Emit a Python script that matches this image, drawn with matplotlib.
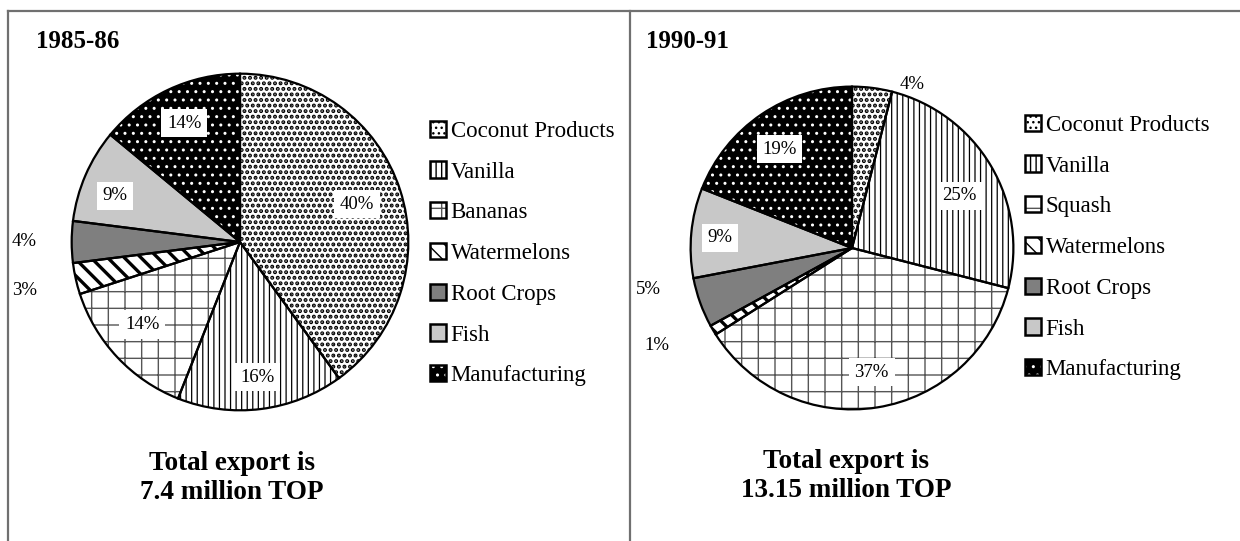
import matplotlib
matplotlib.use("Agg")
import matplotlib.pyplot as plt
from matplotlib.patches import Patch
from matplotlib.lines import Line2D
import numpy as np

plt.rcParams['font.family'] = ['Liberation Serif', 'DejaVu Serif']

# data
products_8586 = ["Coconut Products", "Vanilla", "Bananas", "Watermelons",
                 "Root Crops", "Fish", "Manufacturing"]
shares_8586 = [40, 16, 14, 3, 4, 9, 14]
products_9091 = ["Coconut Products", "Vanilla", "Squash", "Watermelons",
                 "Root Crops", "Fish", "Manufacturing"]
shares_9091 = [4, 25, 37, 1, 5, 9, 19]
titles = ["1985-86", "1990-91"]
totals = ["Total export is\n7.4 million TOP", "Total export is\n13.15 million TOP"]

# look of each slice: face, hatch, hatch colour, hatch width
looks = [
    ("white", "...", "black", 2.0),     # coconut
    ("white", "|||", "black", 0.9),     # vanilla
    ("white", "+", "#555555", 1.0),     # bananas / squash
    ("white", "\\\\", "black", 2.4),    # watermelons
    ("#7f7f7f", "", "#7f7f7f", 1.0),    # root crops
    ("#c8c8c8", "", "#c8c8c8", 1.0),    # fish
    ("black", "..", "white", 1.0),      # manufacturing
]

W, H = 1240, 541
fig = plt.figure(figsize=(W / 100, H / 100), dpi=100)


def fx(x):
    return x / W


def fy(y):
    return 1 - y / H


def set_hlw(p, lw):
    if hasattr(p, "set_hatch_linewidth"):
        p.set_hatch_linewidth(lw)


def draw_pie(cx, cy, r, shares, dists, nudges):
    ax = fig.add_axes([fx(cx - r), fy(cy + r), 2 * r / W, 2 * r / H])
    fills, _ = ax.pie(shares, startangle=90, counterclock=False, radius=1,
                      wedgeprops=dict(linewidth=0))
    for w, (fc, hatch, hc, hlw) in zip(fills, looks):
        w.set_facecolor(fc)
        w.set_edgecolor(hc)
        w.set_hatch(hatch)
        set_hlw(w, hlw)
    outl, _ = ax.pie(shares, startangle=90, counterclock=False, radius=1,
                     wedgeprops=dict(facecolor="none", edgecolor="black",
                                     linewidth=1.6))
    ax.set_xlim(-1.01, 1.01)
    ax.set_ylim(-1.01, 1.01)
    ax.axis("off")
    for w, v, d, n in zip(outl, shares, dists, nudges):
        ang = np.deg2rad((w.theta1 + w.theta2) / 2 + n)
        x, y = d * np.cos(ang), d * np.sin(ang)
        box = dict(boxstyle="square,pad=0.3", facecolor="white",
                   edgecolor="none") if d < 1 else None
        ax.text(x, y, f"{v}%", ha="center", va="center", fontsize=13.5,
                bbox=box, clip_on=False)
    return ax


draw_pie(240, 242, 170, shares_8586,
         [0.73, 0.81, 0.76, 1.31, 1.28, 0.79, 0.78],
         [0, 0, -3, 0, 0, 3, 0])
draw_pie(852, 248, 163, shares_9091,
         [1.08, 0.74, 0.78, 1.35, 1.29, 0.82, 0.76],
         [-13, -4.6, 0, -4, -8.3, 1, 2])


def legend_handles():
    hs = []
    for fc, hatch, hc, hlw in looks:
        a = Patch(facecolor=fc, edgecolor=hc, hatch=hatch, linewidth=0)
        set_hlw(a, min(hlw, 1.2))
        b = Patch(facecolor="none", edgecolor="black", linewidth=1.8)
        hs.append((a, b))
    return hs


for names, xa, ya in [(products_8586, 430, 253.5), (products_9091, 1025, 247.5)]:
    fig.legend(legend_handles(), names, loc="center left",
               bbox_to_anchor=(fx(xa), fy(ya)), frameon=False, fontsize=16.5,
               handlelength=0.7, handleheight=0.7, handletextpad=0.2,
               labelspacing=0.86, borderpad=0, borderaxespad=0)

fig.text(fx(36), fy(42), titles[0], fontsize=18, fontweight="bold",
         ha="left", va="center")
fig.text(fx(646), fy(42), titles[1], fontsize=18, fontweight="bold",
         ha="left", va="center")
fig.text(fx(232), fy(478), totals[0], fontsize=19.5, fontweight="bold",
         ha="center", va="center", linespacing=1.2)
fig.text(fx(846), fy(476), totals[1], fontsize=19.5, fontweight="bold",
         ha="center", va="center", linespacing=1.2)

# frame
fc = "#707070"
fig.add_artist(Line2D([fx(8), 1], [fy(11), fy(11)], color=fc, lw=1.6))
fig.add_artist(Line2D([fx(8), fx(8)], [fy(11), 0], color=fc, lw=1.6))
fig.add_artist(Line2D([fx(630), fx(630)], [fy(11), 0], color=fc, lw=1.6))

fig.savefig("out.png", dpi=100)
